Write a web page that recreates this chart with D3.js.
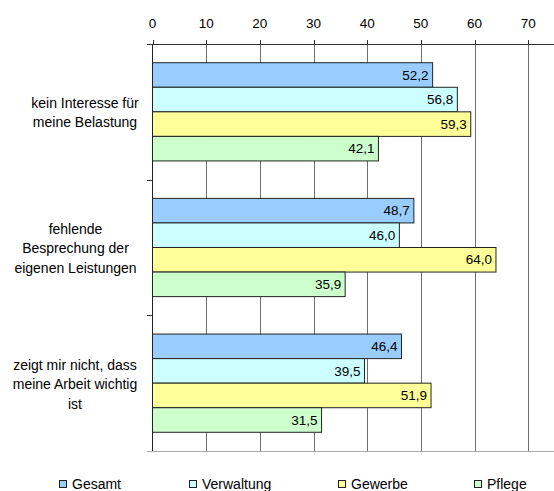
<!DOCTYPE html>
<html>
<head>
<meta charset="utf-8">
<script src="https://cdn.jsdelivr.net/npm/d3@7"></script>
<style>
  html, body { margin: 0; padding: 0; background: #fff; }
  svg { display: block; font-family: "Liberation Sans", Arial, sans-serif; }
</style>
</head>
<body>
<svg id="chart" width="554" height="491"></svg>
<script>
// ---- data ----
const categories = ["kein Interesse für meine Belastung",
                    "fehlende Besprechung der eigenen Leistungen",
                    "zeigt mir nicht, dass meine Arbeit wichtig ist"];
const categoryLines = [["kein Interesse für", "meine Belastung"],
                       ["fehlende", "Besprechung der", "eigenen Leistungen"],
                       ["zeigt mir nicht, dass", "meine Arbeit wichtig", "ist"]];
const seriesNames = ["Gesamt", "Verwaltung", "Gewerbe", "Pflege"];
const gesamt     = [52.2, 48.7, 46.4];
const verwaltung = [56.8, 46.0, 39.5];
const gewerbe    = [59.3, 64.0, 51.9];
const pflege     = [42.1, 35.9, 31.5];
const tickValues = [0, 10, 20, 30, 40, 50, 60, 70];

// ---- styles / layout ----
const colors = ["#99CCFF", "#CCFFFF", "#FFFF99", "#CCFFCC"];
const labelCenterX = [85, 75.5, 75];
const legendX = [59, 189, 338, 474];

const seriesValues = [gesamt, verwaltung, gewerbe, pflege];
const svg = d3.select("#chart");

const x = d3.scaleLinear().domain([0, 75]).range([152.5, 555]);
const y = d3.scaleBand().domain(categories).range([44, 451])
  .paddingInner(0.276).paddingOuter(0.138);
const ySub = d3.scaleBand().domain(seriesNames).range([0, y.bandwidth()]).padding(0);
const step = y.step();

// gridlines
svg.append("g").selectAll("line").data(tickValues.slice(1)).join("line")
  .attr("x1", d => Math.round(x(d)) + 0.5).attr("x2", d => Math.round(x(d)) + 0.5)
  .attr("y1", 44).attr("y2", 451)
  .attr("stroke", "#6e6e6e").attr("stroke-width", 1);

// top ticks
svg.append("g").selectAll("line").data(tickValues).join("line")
  .attr("x1", d => Math.round(x(d)) + 0.5).attr("x2", d => Math.round(x(d)) + 0.5)
  .attr("y1", 40).attr("y2", 44)
  .attr("stroke", "#333").attr("stroke-width", 1);

// top axis labels
svg.append("g").selectAll("text").data(tickValues).join("text")
  .attr("x", d => x(d)).attr("y", 28)
  .attr("text-anchor", "middle")
  .attr("font-size", 13.5).attr("fill", "#000")
  .text(d => d);

// top axis line
svg.append("line").attr("x1", 147).attr("x2", 554).attr("y1", 44.5).attr("y2", 44.5)
  .attr("stroke", "#333").attr("stroke-width", 1);
// bottom line
svg.append("line").attr("x1", 147).attr("x2", 554).attr("y1", 451.5).attr("y2", 451.5)
  .attr("stroke", "#aaa").attr("stroke-width", 1);
// category ticks on left
const bounds = [1, 2].map(i => 44 + i * step);
svg.append("g").selectAll("line").data(bounds).join("line")
  .attr("x1", 147).attr("x2", 152).attr("y1", d => Math.round(d) + 0.5).attr("y2", d => Math.round(d) + 0.5)
  .attr("stroke", "#333").attr("stroke-width", 1);

// bars
const groups = svg.append("g").selectAll("g").data(categories).join("g")
  .attr("transform", c => `translate(0,${y(c)})`);

groups.each(function(c, ci) {
  const g = d3.select(this);
  seriesNames.forEach((s, si) => {
    const v = seriesValues[si][ci];
    g.append("rect")
      .attr("x", x(0)).attr("y", ySub(s))
      .attr("width", x(v) - x(0)).attr("height", ySub.bandwidth())
      .attr("fill", colors[si]).attr("stroke", "#222").attr("stroke-width", 1);
    g.append("text")
      .attr("x", x(v) - 4).attr("y", ySub(s) + ySub.bandwidth() / 2)
      .attr("dy", "0.35em").attr("text-anchor", "end")
      .attr("font-size", 13.5).attr("fill", "#000")
      .text(d3.format(".1f")(v).replace(".", ","));
  });
});

// left axis line
svg.append("line").attr("x1", 152.5).attr("x2", 152.5).attr("y1", 44).attr("y2", 451)
  .attr("stroke", "#222").attr("stroke-width", 1);

// category labels
const lineH = 19.5;
svg.append("g").selectAll("text").data(categories).join("text")
  .attr("font-size", 14).attr("fill", "#000").attr("text-anchor", "middle")
  .each(function(c, ci) {
    const lines = categoryLines[ci];
    const cy = y(c) + y.bandwidth() / 2 + 1;
    const t = d3.select(this);
    lines.forEach((ln, li) => {
      t.append("tspan")
        .attr("x", labelCenterX[ci])
        .attr("y", cy + (li - (lines.length - 1) / 2) * lineH)
        .attr("dy", "0.35em")
        .text(ln);
    });
  });

// legend
const leg = svg.append("g").selectAll("g").data(seriesNames).join("g")
  .attr("transform", (d, i) => `translate(${legendX[i]},484)`);
leg.append("rect").attr("x", 0.5).attr("y", -3.5).attr("width", 7).attr("height", 7)
  .attr("fill", (d, i) => colors[i]).attr("stroke", "#222").attr("stroke-width", 1);
leg.append("text").attr("x", 13).attr("y", 0).attr("dy", "0.35em")
  .attr("font-size", 14).attr("fill", "#000").text(d => d);
</script>
</body>
</html>
